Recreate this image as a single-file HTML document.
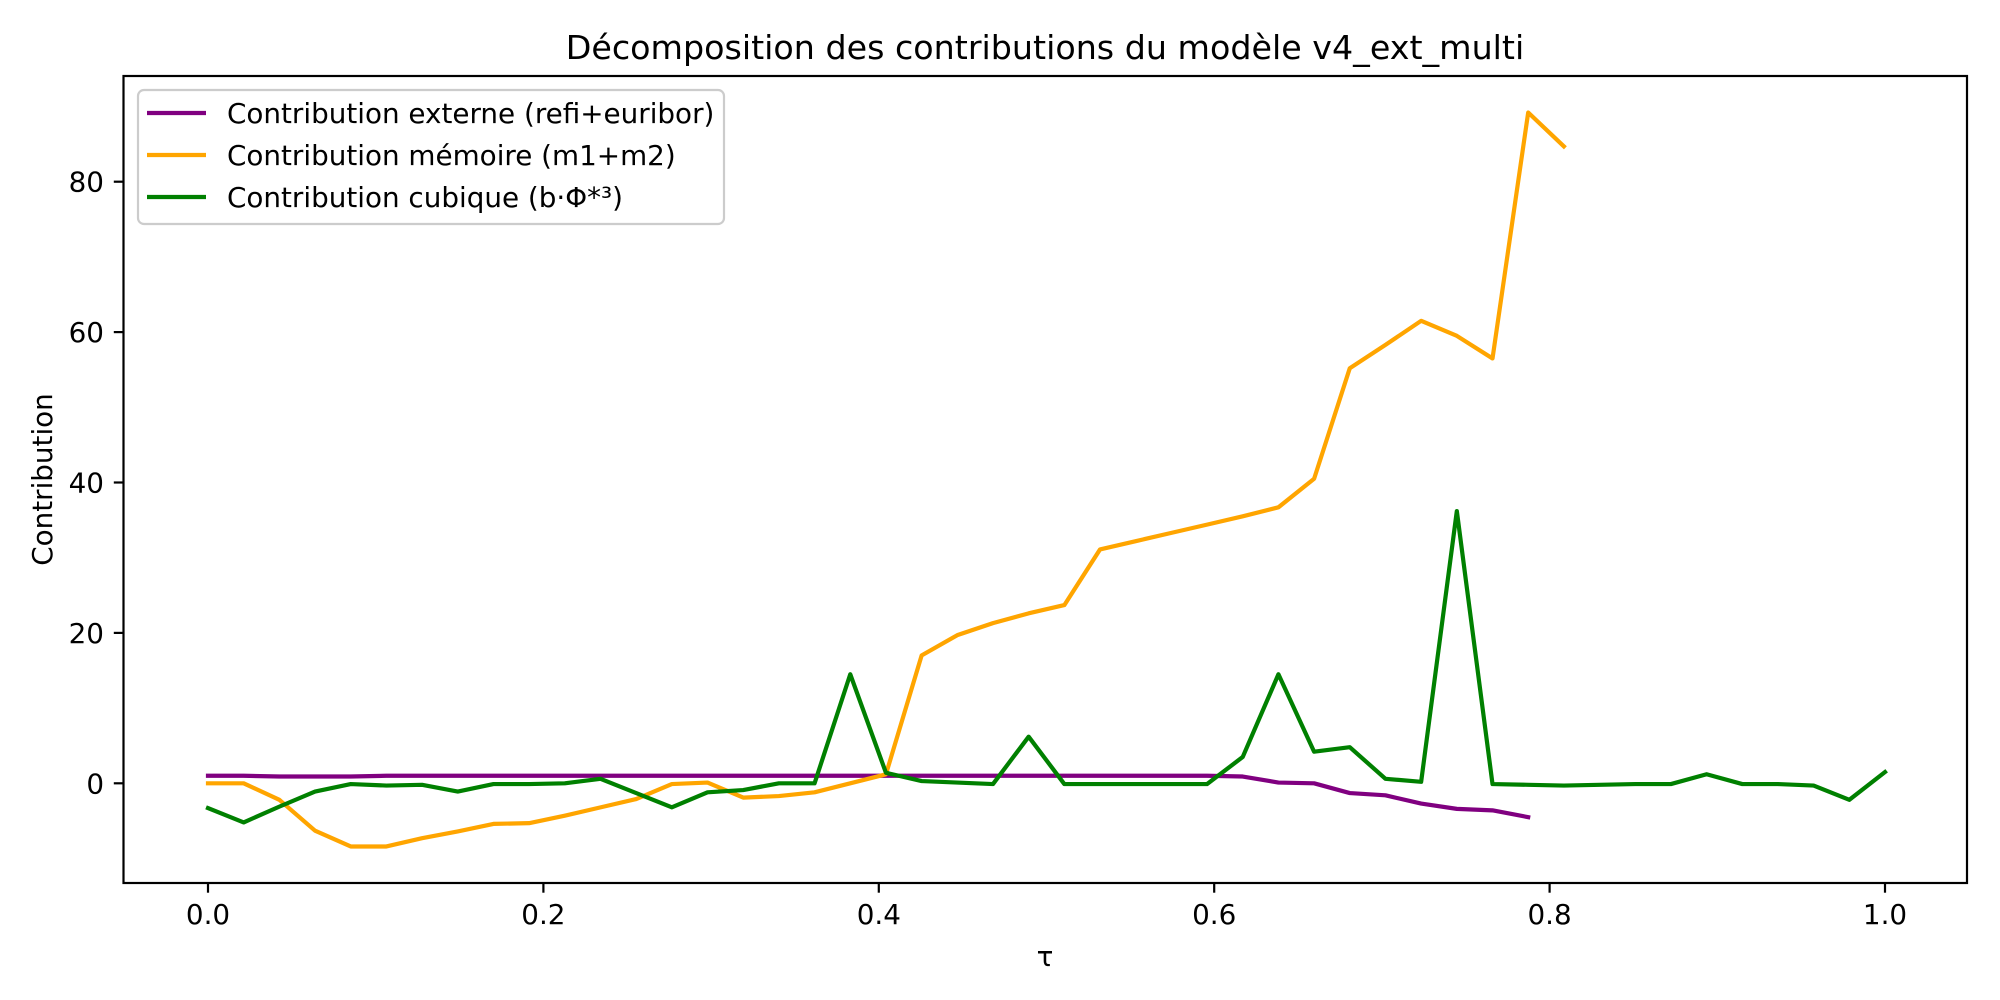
<!DOCTYPE html>
<html><head><meta charset="utf-8"><style>
html,body{margin:0;padding:0;background:#fff;}
svg{display:block;font-family:"DejaVu Sans","Liberation Sans",sans-serif;}
</style></head><body>
<svg id="chart" width="2000" height="1000" viewBox="0 0 2000 1000">
<rect width="2000" height="1000" fill="#fff"/>
<text x="1045" y="59" font-size="33.3" text-anchor="middle">Décomposition des contributions du modèle v4_ext_multi</text>
<g id="plot"></g>
<text x="1045" y="966" font-size="27.8" text-anchor="middle">τ</text>
<text transform="translate(52,479.5) rotate(-90)" font-size="27.8" text-anchor="middle">Contribution</text>
<g>
<rect x="138" y="90" width="586" height="134" rx="6" fill="#fff" fill-opacity="0.8" stroke="#ccc" stroke-width="2.2"/>
<line x1="147" y1="113" x2="206" y2="113" stroke="#800080" stroke-width="4.2"/>
<text x="227" y="123" font-size="27.8">Contribution externe (refi+euribor)</text>
<line x1="147" y1="155" x2="206" y2="155" stroke="#ffa500" stroke-width="4.2"/>
<text x="227" y="165" font-size="27.8">Contribution mémoire (m1+m2)</text>
<line x1="147" y1="197" x2="206" y2="197" stroke="#008000" stroke-width="4.2"/>
<text x="227" y="207" font-size="27.8">Contribution cubique (b·Φ*³)</text>
</g>
</svg>
<script>
const xTicks = [0.0, 0.2, 0.4, 0.6, 0.8, 1.0];
const xTickLabels = ["0.0", "0.2", "0.4", "0.6", "0.8", "1.0"];
const yTicks = [0, 20, 40, 60, 80];
const yTickLabels = ["0", "20", "40", "60", "80"];
const nSteps = 47;
const externe = [1.0,1.0,0.9,0.9,0.9,1.0,1.0,1.0,1.0,1.0,1.0,1.0,1.0,1.0,1.0,1.0,1.0,1.0,1.0,1.0,1.0,1.0,1.0,1.0,1.0,1.0,1.0,1.0,1.0,0.9,0.1,0.0,-1.3,-1.6,-2.7,-3.4,-3.6,-4.5];
const memoire = [0.0,0.0,-2.2,-6.3,-8.4,-8.4,-7.3,-6.4,-5.4,-5.3,-4.3,-3.2,-2.1,-0.1,0.1,-1.9,-1.7,-1.2,0.0,1.2,17.0,19.7,21.3,22.6,23.7,31.1,32.2,33.3,34.4,35.5,36.7,40.5,55.2,58.3,61.5,59.5,56.5,89.2,84.7];
const cubique = [-3.3,-5.2,-3.1,-1.1,-0.1,-0.3,-0.2,-1.1,-0.1,-0.1,0.0,0.6,-1.3,-3.2,-1.2,-0.9,0.0,0.0,14.5,1.4,0.3,0.1,-0.1,6.2,-0.1,-0.1,-0.1,-0.1,-0.1,3.5,14.5,4.2,4.8,0.6,0.2,36.2,-0.1,-0.2,-0.3,-0.2,-0.1,-0.1,1.2,-0.1,-0.1,-0.3,-2.2,1.5];

const NS = "http://www.w3.org/2000/svg";
const L = 123.5, R = 1967, T = 76, B = 883;
function xs(v){ return 208 + v * (1885 - 208); }
function ys(v){ return 783.3 - v * 7.52; }
const plot = document.getElementById('plot');
function mk(tag, attrs){ const e = document.createElementNS(NS, tag); for (const k in attrs) e.setAttribute(k, attrs[k]); plot.appendChild(e); return e; }

function series(arr, color, name){
  const pts = arr.map((v,i)=> xs(i/nSteps).toFixed(2)+","+ys(v).toFixed(2)).join(" ");
  const pl = mk('polyline', {points: pts, fill: 'none', stroke: color, 'stroke-width': 4.2, 'stroke-linejoin': 'round', 'stroke-linecap': 'square'});
  
  
}
series(externe, '#800080', 'line-externe');
series(memoire, '#ffa500', 'line-memoire');
series(cubique, '#008000', 'line-cubique');

const frame = mk('rect', {x: L, y: T, width: R-L, height: B-T, fill: 'none', stroke: '#000', 'stroke-width': 2.2});



xTicks.forEach((v,i)=>{
  const t = mk('line', {x1: xs(v), x2: xs(v), y1: B, y2: B+9.7, stroke: '#000', 'stroke-width': 2.2});
  
  
  const lb = mk('text', {x: xs(v), y: 924, 'font-size': 27.8, 'text-anchor': 'middle'});
  lb.textContent = xTickLabels[i];
  
  
});
yTicks.forEach((v,i)=>{
  const t = mk('line', {x1: L-9.7, x2: L, y1: ys(v), y2: ys(v), stroke: '#000', 'stroke-width': 2.2});
  
  
  const lb = mk('text', {x: 104, y: ys(v)+10, 'font-size': 27.8, 'text-anchor': 'end'});
  lb.textContent = yTickLabels[i];
  
  
});
</script>
</body></html>
